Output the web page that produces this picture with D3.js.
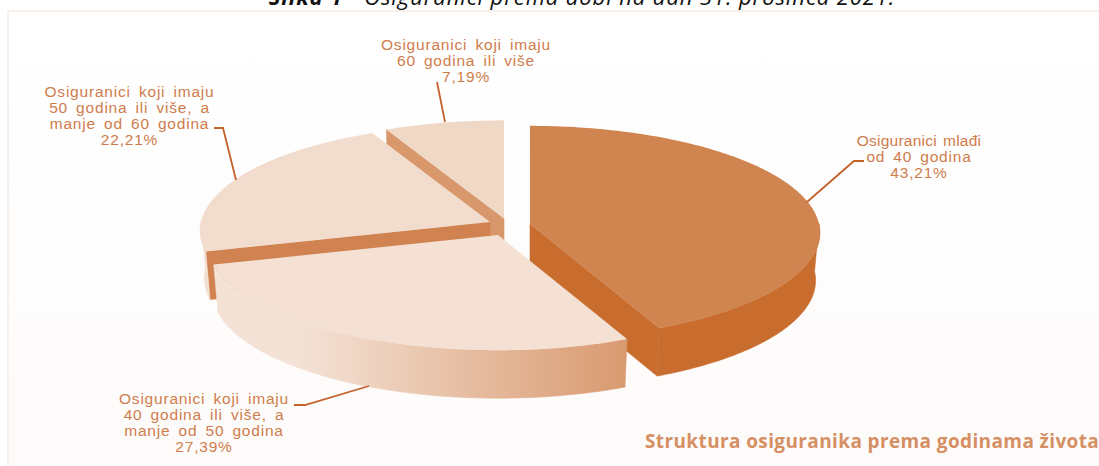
<!DOCTYPE html>
<html><head><meta charset="utf-8">
<script src="https://cdn.jsdelivr.net/npm/d3@7"></script>
<style>html,body{margin:0;padding:0;background:#fff;overflow:hidden}svg{display:block}</style>
</head><body><div id="chart"></div>
<script>
const categories = ["Osiguranici mlađi od 40 godina","Osiguranici koji imaju 40 godina ili više, a manje od 50 godina","Osiguranici koji imaju 50 godina ili više, a manje od 60 godina","Osiguranici koji imaju 60 godina ili više"];
const values = [43.21, 27.39, 22.21, 7.19];
const valueLabels = ["43,21%","27,39%","22,21%","7,19%"];
const labelLines = [
 ["Osiguranici mlađi","od 40 godina"],
 ["Osiguranici koji imaju","40 godina ili više, a","manje od 50 godina"],
 ["Osiguranici koji imaju","50 godina ili više, a","manje od 60 godina"],
 ["Osiguranici koji imaju","60 godina ili više"]];
const chartTitle = "Struktura osiguranika prema godinama života";

const W=1099,H=466;
const svg=d3.select("#chart").append("svg").attr("width",W).attr("height",H);
const defs=svg.append("defs");
const bg=defs.append("linearGradient").attr("id","bg").attr("x1",0).attr("y1",0).attr("x2",0).attr("y2",1);
bg.append("stop").attr("offset",0).attr("stop-color","#ffffff");
bg.append("stop").attr("offset",1).attr("stop-color","#fdfbfa");
const sg=defs.append("linearGradient").attr("id","sideB").attr("gradientUnits","userSpaceOnUse").attr("x1",300).attr("x2",627).attr("y1",0).attr("y2",0);
sg.append("stop").attr("offset",0).attr("stop-color","#f4e2d6");
sg.append("stop").attr("offset",1).attr("stop-color","#d99a70");

svg.append("rect").attr("x",8).attr("y",11).attr("width",W).attr("height",H).attr("fill","url(#bg)").attr("stroke","#fbefe9").attr("stroke-width",2);

// slice styling and placement
const RX=289,RY=106,K=0.08,DEPTH=48,BOTTOM=0.985;
const sliceStyle=[
 {c:[530,224],top:"#d0844f",side:"#c96d2f",cut:"#c96d2f",lab:[919,146],line:[[807,202],[854,161],[864,161]]},
 {c:[498,235],top:"#f4e1d4",side:"url(#sideB)",cut:"#d99a70",lab:[204,404],line:[[369,386],[305,405],[294,405]]},
 {c:[490,222],top:"#f1dccd",side:"#f1dfd2",cut:"#d08350",lab:[129.5,97],line:[[236,180],[223,128],[214,128]]},
 {c:[504,218.5],top:"#f0d8c7",side:"#e8c8b0",cut:"#d8986c",lab:[466,50],line:[[445,122],[437,82]]}
];
const pie=d3.pie().sort(null)(values);
function proj(s,th,r){ // th clockwise from 12 o'clock
  const u=r*Math.sin(th),v=-r*Math.cos(th),w=1/(1-K*v);
  return [s.c[0]+RX*u*w,s.c[1]+RY*v*w];
}
function low(s,p){return [s.c[0]+(p[0]-s.c[0])*BOTTOM,p[1]+DEPTH];}
const lineGen=d3.line();
const slices=pie.map((a,i)=>({a,s:sliceStyle[i],i}));
const g=svg.append("g");
// paint back to front
[0,3,2,1].forEach(i=>{
  const {a,s}=slices[i];
  const n=Math.max(24,Math.round((a.endAngle-a.startAngle)*60));
  const arc=d3.range(n+1).map(k=>a.startAngle+(a.endAngle-a.startAngle)*k/n);
  const top=arc.map(t=>proj(s,t,1));
  const apex=proj(s,0,0);
  // the cut face that looks towards the viewer
  const faces=[];
  if(i===0) faces.push(top[n]);
  if(i===2||i===3) faces.push(top[0]);
  faces.forEach(p=>{
    g.append("path").attr("fill",s.cut).attr("stroke",s.cut).attr("stroke-width",0.6)
     .attr("d",lineGen([apex,p,low(s,p),low(s,apex)])+"Z");
  });
  // curved side: only the part of the arc at the front
  const vis=arc.filter(t=>Math.cos(t)<=0.02);
  if(vis.length>1){
    const upper=vis.map(t=>proj(s,t,1));
    const lower=upper.map(p=>low(s,p)).reverse();
    g.append("path").attr("fill",s.side).attr("stroke",s.side).attr("stroke-width",0.6).attr("d",lineGen(upper.concat(lower))+"Z");
  }
  g.append("path").attr("fill",s.top).attr("d",lineGen([apex].concat(top))+"Z");
});
// leader lines
slices.forEach(({s})=>{
  svg.append("path").attr("d",lineGen(s.line)).attr("fill","none").attr("stroke","#c4622a").attr("stroke-width",1.8);
});
// labels
slices.forEach(({s,i})=>{
  const t=svg.append("text").attr("text-anchor","middle").attr("fill","#cf7c4c")
    .attr("font-family","Liberation Sans, Arial, sans-serif").attr("font-size",15.5)
    .attr("letter-spacing",0.8).attr("word-spacing",3);
  labelLines[i].concat([valueLabels[i]]).forEach((l,k)=>{
    const ts=t.append("tspan").attr("x",s.lab[0]).attr("y",s.lab[1]+k*16).text(l);
    if(i===0&&k===0) ts.attr("letter-spacing",0.25).attr("word-spacing",1.5);
  });
});
svg.append("text").attr("x",645).attr("y",448).attr("fill","#d68f63")
  .attr("font-family","Open Sans, sans-serif").attr("font-weight",700).attr("font-size",19).attr("letter-spacing",0.38).text(chartTitle);
const title=svg.append("text").attr("x",582).attr("y",5).attr("text-anchor","middle").attr("fill","#111")
  .attr("font-family","Open Sans, sans-serif").attr("font-style","italic").attr("font-size",22).attr("letter-spacing",0.9);
title.append("tspan").attr("font-weight",700).text("Slika 1");
title.append("tspan").text(" - Osiguranici prema dobi na dan 31. prosinca 2021.");
</script></body></html>
